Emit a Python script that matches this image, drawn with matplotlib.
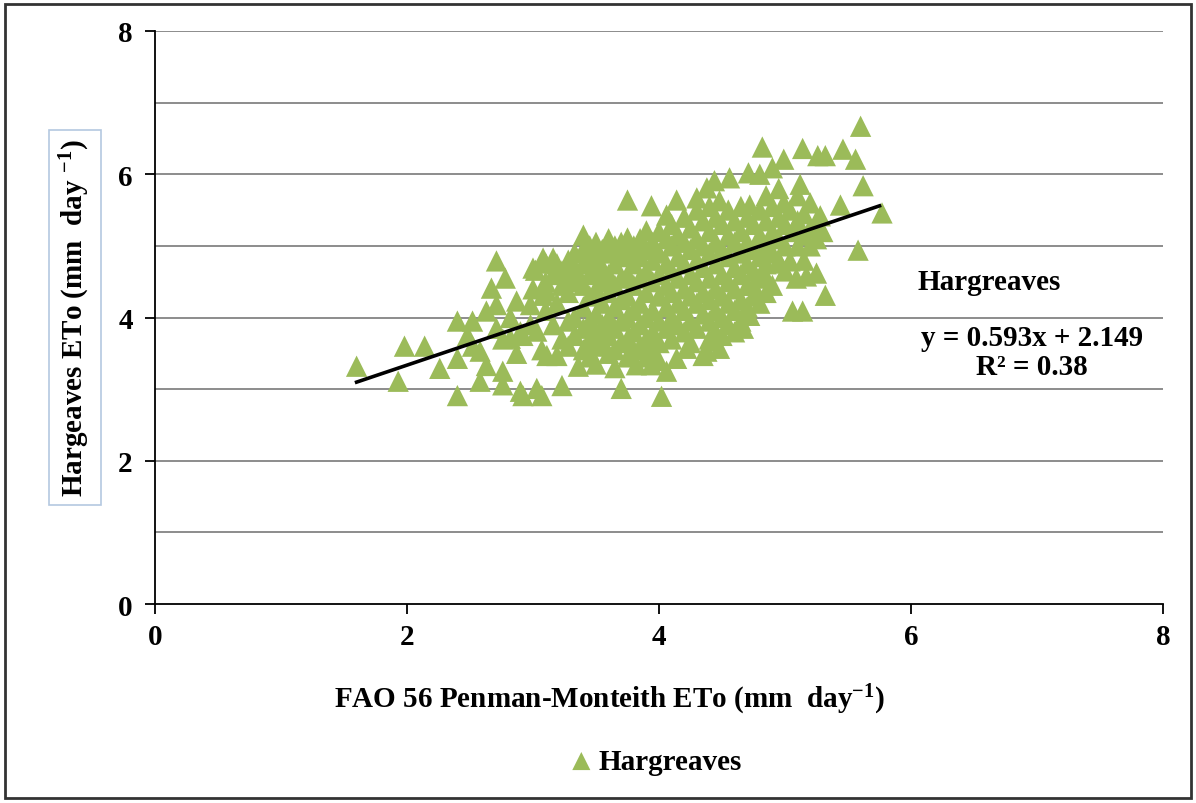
import matplotlib
matplotlib.use("Agg")
import matplotlib.pyplot as plt
from matplotlib.patches import Rectangle
import numpy as np

plt.rcParams['font.family'] = ['Liberation Serif', 'DejaVu Serif']
plt.rcParams['font.weight'] = 'bold'
plt.rcParams['mathtext.fontset'] = 'custom'
plt.rcParams['mathtext.default'] = 'regular'

# FAO 56 Penman-Monteith ETo (x) against Hargreaves ETo (y), mm/day
pm_eto = [
    1.60, 1.93, 1.98, 2.14, 2.26, 2.40, 2.40, 2.40, 2.48, 2.52, 2.52,
    2.58, 2.58, 2.63, 2.63, 2.67, 2.71, 2.71, 2.71, 2.76, 2.76, 2.76,
    2.78, 2.82, 2.82, 2.87, 2.87, 2.90, 2.90, 2.92, 2.92, 2.98, 2.98,
    3.00, 3.00, 3.02, 3.03, 3.03, 3.07, 3.07, 3.08, 3.08, 3.10, 3.10,
    3.10, 3.11, 3.11, 3.16, 3.16, 3.16, 3.19, 3.19, 3.19, 3.23, 3.23,
    3.23, 3.23, 3.28, 3.28, 3.28, 3.28, 3.28, 3.33, 3.33, 3.33, 3.33,
    3.33, 3.36, 3.36,
    3.40, 3.40, 3.40, 3.40, 3.40, 3.40, 3.40,
    3.45, 3.45, 3.45, 3.45, 3.45, 3.45, 3.45,
    3.50, 3.50, 3.50, 3.50, 3.50, 3.50, 3.50, 3.50,
    3.55, 3.55, 3.55, 3.55, 3.55, 3.55,
    3.60, 3.60, 3.60, 3.60, 3.60, 3.60, 3.60,
    3.65, 3.65, 3.65, 3.65, 3.65, 3.65, 3.65,
    3.70, 3.70, 3.70, 3.70, 3.70, 3.70, 3.70,
    3.75, 3.75, 3.75, 3.75, 3.75, 3.75, 3.75, 3.75,
    3.80, 3.80, 3.80, 3.80, 3.80, 3.80, 3.82,
    3.85, 3.85, 3.85, 3.85, 3.85, 3.85,
    3.90, 3.90, 3.90, 3.90, 3.90, 3.90, 3.90, 3.94, 3.94,
    3.95, 3.95, 3.95, 3.95, 3.95, 3.95,
    4.00, 4.00, 4.00, 4.00, 4.00, 4.00, 4.00, 4.02,
    4.06, 4.06, 4.06, 4.06, 4.06, 4.06, 4.06,
    4.10, 4.10, 4.10, 4.10, 4.10, 4.10, 4.14, 4.14,
    4.15, 4.15, 4.15, 4.15, 4.15,
    4.20, 4.20, 4.20, 4.20, 4.20, 4.20, 4.22,
    4.25, 4.25, 4.25, 4.25, 4.25, 4.25,
    4.30, 4.30, 4.30, 4.30, 4.30, 4.30, 4.30,
    4.35, 4.35, 4.35, 4.35, 4.35, 4.35, 4.38, 4.38,
    4.40, 4.40, 4.40, 4.40, 4.40, 4.40, 4.40, 4.43, 4.44,
    4.45, 4.45, 4.45, 4.45, 4.45, 4.45, 4.48, 4.48,
    4.50, 4.50, 4.50, 4.50, 4.50, 4.50,
    4.55, 4.55, 4.55, 4.55, 4.55, 4.55, 4.56,
    4.60, 4.60, 4.60, 4.60, 4.60, 4.60,
    4.65, 4.65, 4.65, 4.65, 4.65, 4.65, 4.67,
    4.70, 4.70, 4.70, 4.70, 4.70, 4.71, 4.72, 4.72,
    4.75, 4.75, 4.75, 4.75, 4.75,
    4.80, 4.80, 4.80, 4.80, 4.80, 4.80, 4.82, 4.84,
    4.85, 4.85, 4.85, 4.85, 4.85,
    4.90, 4.90, 4.90, 4.90, 4.90,
    4.95, 4.95, 4.95, 4.95, 4.96, 4.99, 4.99,
    5.00, 5.00, 5.00, 5.04, 5.04, 5.06, 5.06, 5.09,
    5.10, 5.10, 5.10, 5.12, 5.14, 5.14,
    5.15, 5.15, 5.15, 5.17, 5.20, 5.20, 5.20,
    5.25, 5.25, 5.25, 5.26, 5.28, 5.30, 5.32, 5.32,
    5.44, 5.46, 5.56, 5.58, 5.60, 5.62, 5.77,
]
hg_eto = [
    3.32, 3.11, 3.60, 3.60, 3.29, 3.95, 3.43, 2.91, 3.75, 3.95, 3.60,
    3.53, 3.11, 4.09, 3.33, 4.41, 4.79, 4.18, 3.85, 3.25, 3.06, 3.70,
    4.55, 3.71, 4.00, 4.23, 3.50, 2.97, 3.80, 3.75, 2.91, 4.18, 3.90,
    4.69, 4.40, 4.66, 3.81, 3.01, 2.91, 3.55, 4.83, 4.31, 4.76, 4.50,
    4.10, 3.47, 4.37, 4.83, 4.60, 3.90, 3.47, 4.20, 4.75, 3.05, 4.65,
    4.45, 3.70, 4.80, 4.55, 4.35, 3.95, 3.60, 4.90, 4.70, 4.50, 4.00,
    3.75, 3.32, 4.60,
    5.15, 4.95, 4.75, 4.45, 4.15, 3.85, 3.55,
    5.00, 4.80, 4.60, 4.30, 3.95, 3.70, 3.45,
    5.05, 4.85, 4.65, 4.40, 4.05, 3.80, 3.60, 3.35,
    4.95, 4.70, 4.50, 4.20, 3.90, 3.65,
    5.10, 4.90, 4.60, 4.35, 4.00, 3.75, 3.50,
    5.00, 4.75, 4.45, 4.15, 3.85, 3.55, 3.30,
    5.05, 4.85, 4.55, 4.25, 3.95, 3.65, 3.01,
    5.64, 5.11, 4.90, 4.60, 4.30, 4.00, 3.70, 3.45,
    5.00, 4.75, 4.45, 4.10, 3.80, 3.55, 3.34,
    5.10, 4.85, 4.55, 4.20, 3.90, 3.60,
    5.21, 4.95, 4.65, 4.35, 4.00, 3.70, 3.45, 5.56, 3.34,
    5.05, 4.80, 4.50, 4.10, 3.80, 3.55,
    5.20, 4.90, 4.60, 4.30, 3.95, 3.65, 3.40, 2.90,
    5.43, 5.10, 4.75, 4.45, 4.15, 3.85, 3.25,
    5.30, 5.00, 4.65, 4.35, 4.00, 3.70, 5.64, 3.43,
    5.15, 4.85, 4.55, 4.20, 3.90,
    5.40, 5.05, 4.75, 4.40, 4.10, 3.80, 3.57,
    5.25, 4.95, 4.60, 4.30, 3.95, 3.65,
    5.67, 5.50, 5.10, 4.80, 4.50, 4.20, 3.85,
    5.35, 5.00, 4.70, 4.35, 4.05, 3.47, 5.81, 3.53,
    5.55, 5.20, 4.90, 4.55, 4.25, 3.95, 3.70, 3.67, 5.91,
    5.40, 5.05, 4.75, 4.40, 4.10, 3.80, 5.63, 3.57,
    5.30, 4.95, 4.60, 4.30, 4.00, 3.75,
    5.50, 5.15, 4.85, 4.50, 4.20, 3.90, 5.95,
    5.35, 5.05, 4.70, 4.40, 4.10, 3.80,
    5.55, 5.20, 4.90, 4.60, 4.25, 3.95, 3.85,
    5.40, 5.05, 4.75, 4.45, 4.15, 6.02, 5.57, 4.03,
    5.30, 4.95, 4.65, 4.45, 4.30,
    6.00, 5.50, 5.15, 4.85, 4.55, 4.20, 6.38, 4.60,
    5.70, 5.35, 5.00, 4.75, 4.35,
    6.09, 5.55, 5.20, 4.90, 4.45,
    5.80, 5.40, 5.10, 4.80, 4.76, 6.21, 5.60,
    5.30, 5.00, 4.65, 4.79, 5.50, 4.09, 5.20, 4.55,
    5.70, 5.35, 5.00, 5.86, 6.36, 4.09,
    5.45, 5.15, 4.80, 4.58, 5.60, 5.25, 5.00,
    4.62, 5.35, 5.10, 6.26, 5.42, 5.20, 6.26, 4.31,
    5.57, 6.35, 6.21, 4.94, 6.67, 5.84, 5.46,
]

# Linear regression reported on the chart
slope = 0.593
intercept = 2.149
r_squared = 0.38
fit_x = [1.6, 5.75]

x_ticks = [0, 2, 4, 6, 8]
y_ticks = [0, 2, 4, 6, 8]
grid_levels = [1, 2, 3, 4, 5, 6, 7, 8]

green = '#9BBB59'

fig = plt.figure(figsize=(11.96, 8.04), dpi=100)
ax = fig.add_axes([0.1296, 0.2475, 0.8428, 0.7127])

for g in grid_levels:
    ax.axhline(g, color='#8c8c8c', lw=1.4, zorder=0)

sc = ax.scatter(pm_eto, hg_eto, marker='^', s=235, color=green,
                edgecolors='none', zorder=2, label='Hargreaves')

fx = np.array(fit_x)
ax.plot(fx, slope * fx + intercept, color='black', lw=2.6, zorder=3)

ax.set_xlim(0, 8)
ax.set_ylim(0, 8)
ax.set_xticks(x_ticks)
ax.set_yticks(y_ticks)
ax.tick_params(direction='out', length=7, width=1.3, labelsize=21)
ax.tick_params(axis='y', pad=9)
ax.tick_params(axis='x', pad=7)
for s in ['top', 'right']:
    ax.spines[s].set_visible(False)
for s in ['left', 'bottom']:
    ax.spines[s].set_linewidth(1.3)
ax.set_facecolor('white')

fig.text(0.510, 0.129, r'FAO 56 Penman-Monteith ETo (mm  day$^{-1}$)',
         ha='center', va='center', fontsize=21, fontweight='bold')
fig.text(0.0627, 0.604, r'Hargeaves ETo (mm  day $^{-1}$)', rotation=90,
         ha='center', va='center', fontsize=21, fontweight='bold',
         bbox=dict(boxstyle='square,pad=0.3', fc='white', ec='#b4c8e0', lw=1.2))

ax.text(6.05, 4.5, 'Hargreaves', fontsize=21, fontweight='bold', ha='left', va='center')
ax.text(6.96, 3.72, f'y = {slope}x + {intercept}', fontsize=21, fontweight='bold',
        ha='center', va='center')
ax.text(6.96, 3.32, f'R\u00b2 = {r_squared}', fontsize=21, fontweight='bold',
        ha='center', va='center')

fig.legend(handles=[sc], labels=['Hargreaves'], loc='center', bbox_to_anchor=(0.546, 0.052),
           frameon=False, handletextpad=0.0, handlelength=1.2, markerscale=0.85,
           prop={'weight': 'bold', 'size': 21})

fig.patches.append(Rectangle((0.004, 0.006), 0.992, 0.988, transform=fig.transFigure,
                             fill=False, ec='#333333', lw=2.0))

fig.savefig('out.png', dpi=100)
